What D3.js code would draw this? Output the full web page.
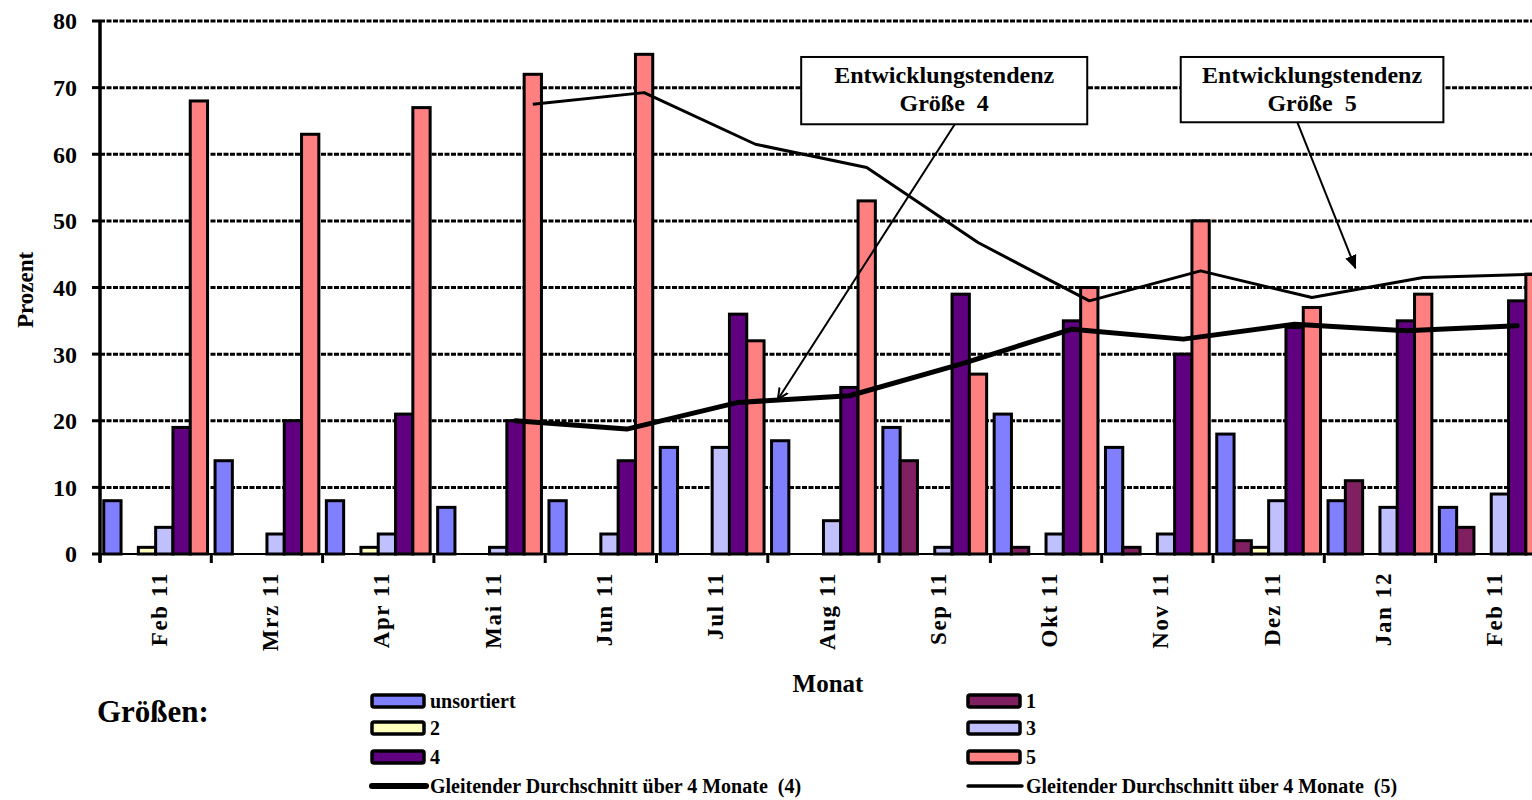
<!DOCTYPE html>
<html><head><meta charset="utf-8">
<script src="https://cdn.jsdelivr.net/npm/d3@7"></script>
<style>
body{margin:0;background:#fff;}
text{font-family:"Liberation Serif","Times New Roman",serif;font-weight:bold;fill:#000;}
</style></head>
<body><svg id="c" width="1532" height="800"></svg>
<script>
const months = ["Feb 11","Mrz 11","Apr 11","Mai 11","Jun 11","Jul 11","Aug 11","Sep 11","Okt 11","Nov 11","Dez 11","Jan 12","Feb 11"];
const seriesNames = ["unsortiert","1","2","3","4","5"];
const seriesColors = ["#8080FF","#802060","#FFFFC0","#C0C0FF","#600080","#FF8080"];
const vUnsortiert = [8,14,8,7,8,16,17,19,21,16,18,8,7];
const v1 = [0,0,0,0,0,0,0,14,1,1,2,11,4];
const v2 = [1,0,1,0,0,0,0,0,0,0,1,0,0];
const v3 = [4,3,3,1,3,16,5,1,3,3,8,7,9];
const v4 = [19,20,21,20,14,36,25,39,35,30,34,35,38];
const v5 = [68,63,67,72,75,32,53,27,40,50,37,39,42];
// gleitender Durchschnitt über 4 Monate (ab Mai 11)
const ma4 = [null,null,null,20,18.75,22.75,23.75,28.5,33.75,32.25,34.5,33.5,34.25];
const ma5 = [null,null,null,67.5,69.25,61.5,58,46.75,38,42.5,38.5,41.5,42];
const yTicks = [0,10,20,30,40,50,60,70,80];
const legendLabels = ["unsortiert","1","2","3","4","5","Gleitender Durchschnitt über 4 Monate  (4)","Gleitender Durchschnitt über 4 Monate  (5)"];

const values = [vUnsortiert,v1,v2,v3,v4,v5];
const svg = d3.select("#c");
const idx = d3.range(months.length);
const catW = 111.3;
const x0 = d3.scaleBand().domain(idx).range([100, 100 + catW*months.length]).paddingInner(0).paddingOuter(0);
const x1 = d3.scaleBand().domain(d3.range(6)).range([0, x0.bandwidth()]).paddingInner(0).paddingOuter(0.217);
const y = d3.scaleLinear().domain([0,80]).range([554,21]);
const xf = f => 100 + f*catW; // fractional category position

// grid
svg.append("g").selectAll("line").data(yTicks.filter(d=>d>0)).join("line")
  .attr("x1",100).attr("x2",1532).attr("y1",d=>y(d)).attr("y2",d=>y(d))
  .attr("stroke","#000").attr("stroke-width",3).attr("stroke-dasharray","5,1.5");

// bars
const gBars = svg.append("g");
values.forEach((vals,s)=>{
  gBars.append("g").selectAll("rect").data(vals.map((v,i)=>({v,i}))).join("rect")
    .attr("x",d=>x0(d.i)+x1(s)).attr("width",x1.bandwidth())
    .attr("y",d=>y(d.v)).attr("height",d=>y(0)-y(d.v))
    .attr("fill",seriesColors[s]).attr("stroke","#000").attr("stroke-width",3)
    .attr("display",d=>d.v>0?null:"none");
});

// moving averages
const line = (s)=>d3.line().defined(d=>d.v!=null).x(d=>x0(d.i)+x1(s)+x1.bandwidth()/2).y(d=>y(d.v));
svg.append("path").datum(ma4.map((v,i)=>({v,i}))).attr("d",line(4)).attr("fill","none")
  .attr("stroke","#000").attr("stroke-width",5).attr("stroke-linejoin","round").attr("stroke-linecap","round");
svg.append("path").datum(ma5.map((v,i)=>({v,i}))).attr("d",line(5)).attr("fill","none")
  .attr("stroke","#000").attr("stroke-width",3).attr("stroke-linejoin","round");

// axes
const yAxis = svg.append("g");
yAxis.append("line").attr("x1",100).attr("x2",100).attr("y1",y(80)-1).attr("y2",y(0)+8).attr("stroke","#000").attr("stroke-width",3.5);
yAxis.selectAll("line.t").data(yTicks).join("line").attr("class","t")
  .attr("x1",92).attr("x2",100).attr("y1",d=>y(d)).attr("y2",d=>y(d)).attr("stroke","#000").attr("stroke-width",3);
yAxis.selectAll("text").data(yTicks).join("text")
  .attr("x",77).attr("y",d=>y(d)).attr("dy","0.35em").attr("text-anchor","end")
  .style("font-size","24px").text(d=>d);
svg.append("text").attr("transform","translate(33,290) rotate(-90)").attr("text-anchor","middle")
  .style("font-size","23px").text("Prozent");

const xAxis = svg.append("g");
xAxis.append("line").attr("x1",100).attr("x2",1532).attr("y1",y(0)).attr("y2",y(0)).attr("stroke","#000").attr("stroke-width",2);
xAxis.selectAll("line.t").data(d3.range(months.length+1)).join("line").attr("class","t")
  .attr("x1",d=>xf(d)).attr("x2",d=>xf(d)).attr("y1",y(0)).attr("y2",y(0)+9).attr("stroke","#000").attr("stroke-width",3);
xAxis.selectAll("text").data(idx).join("text")
  .attr("transform",d=>`translate(${x0(d)+x0.bandwidth()/2+3},572) rotate(-90)`)
  .attr("dy","0.35em").attr("text-anchor","end").style("font-size","23px").style("letter-spacing","1.6px")
  .text(d=>months[d]);
svg.append("text").attr("x",828).attr("y",692).attr("text-anchor","middle").style("font-size","25px").text("Monat");

// annotations (in data space: fractional category, value)
const annotations = [
  {lines:["Entwicklungstendenz","Größe  4"], c0:6.30, c1:8.87, vTop:74.6, vBot:64.5, from:[7.68,64.5], to:[6.09,23.2], head:"open"},
  {lines:["Entwicklungstendenz","Größe  5"], c0:9.71, c1:12.07, vTop:74.6, vBot:64.8, from:[10.76,64.7], to:[11.28,42.9], head:"filled"}
];
const defs = svg.append("defs");
defs.append("marker").attr("id","hOpen").attr("viewBox","0 0 12 12").attr("refX",11).attr("refY",6)
  .attr("markerWidth",12).attr("markerHeight",12).attr("markerUnits","userSpaceOnUse").attr("orient","auto")
  .append("path").attr("d","M0,1 L11,6 L0,11").attr("fill","none").attr("stroke","#000").attr("stroke-width",2);
defs.append("marker").attr("id","hFill").attr("viewBox","0 0 12 12").attr("refX",11).attr("refY",6)
  .attr("markerWidth",14).attr("markerHeight",14).attr("markerUnits","userSpaceOnUse").attr("orient","auto")
  .append("path").attr("d","M0,1 L12,6 L0,11 Z").attr("fill","#000");
annotations.forEach(a=>{
  const g = svg.append("g");
  g.append("rect").attr("x",xf(a.c0)).attr("y",y(a.vTop)).attr("width",xf(a.c1)-xf(a.c0)).attr("height",y(a.vBot)-y(a.vTop))
    .attr("fill","#fff").attr("stroke","#000").attr("stroke-width",2);
  const cx = (xf(a.c0)+xf(a.c1))/2;
  a.lines.forEach((t,k)=>g.append("text").attr("x",cx).attr("y",y(a.vTop)+26+k*28).attr("text-anchor","middle")
    .style("font-size","24px").style("white-space","pre").attr("xml:space","preserve").text(t));
  svg.append("line").attr("x1",xf(a.from[0])).attr("y1",y(a.from[1])).attr("x2",xf(a.to[0])).attr("y2",y(a.to[1]))
    .attr("stroke","#000").attr("stroke-width",2).attr("marker-end",a.head==="open"?"url(#hOpen)":"url(#hFill)");
});

// legend
svg.append("text").attr("x",97).attr("y",722).style("font-size","31px").text("Größen:");
const legendItems = [
  {k:0,col:0,row:0},{k:1,col:1,row:0},{k:2,col:0,row:1},{k:3,col:1,row:1},{k:4,col:0,row:2},{k:5,col:1,row:2}
];
const colX = [372, 968], rowY = [701, 728, 757, 786];
const lg = svg.append("g");
legendItems.forEach(it=>{
  lg.append("rect").attr("x",colX[it.col]).attr("y",rowY[it.row]-6).attr("width",52).attr("height",12).attr("rx",2)
    .attr("fill",seriesColors[it.k]).attr("stroke","#000").attr("stroke-width",3.5);
  lg.append("text").attr("x",colX[it.col]+58).attr("y",rowY[it.row]+7).style("font-size","20px").text(legendLabels[it.k]);
});
[[0,6,6],[1,7,3.5]].forEach(([col,k,w])=>{
  lg.append("line").attr("x1",colX[col]).attr("x2",colX[col]+54).attr("y1",rowY[3]).attr("y2",rowY[3])
    .attr("stroke","#000").attr("stroke-width",w).attr("stroke-linecap","round");
  lg.append("text").attr("x",colX[col]+58).attr("y",rowY[3]+7).style("font-size","20px").style("white-space","pre").attr("xml:space","preserve").text(legendLabels[k]);
});
</script></body></html>
